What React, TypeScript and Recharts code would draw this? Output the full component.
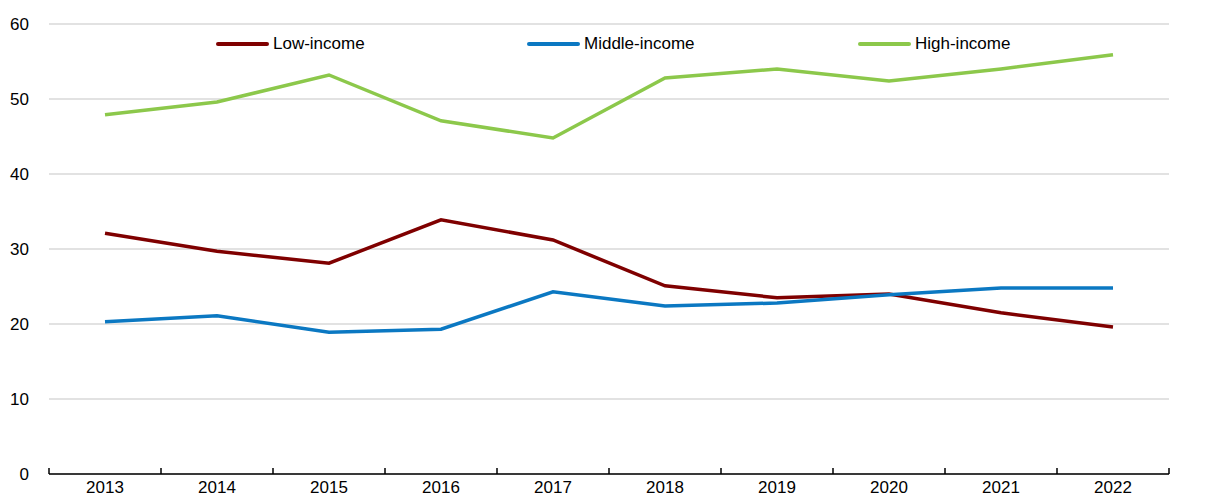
import React from "react";
import { LineChart, Line, XAxis, YAxis, CartesianGrid } from "recharts";

const years = ["2013", "2014", "2015", "2016", "2017", "2018", "2019", "2020", "2021", "2022"];
const lowIncome = [32.1, 29.7, 28.1, 33.9, 31.2, 25.1, 23.5, 24.0, 21.5, 19.6];
const middleIncome = [20.3, 21.1, 18.9, 19.3, 24.3, 22.4, 22.8, 23.9, 24.8, 24.8];
const highIncome = [47.9, 49.6, 53.2, 47.1, 44.8, 52.8, 54.0, 52.4, 54.0, 55.9];
const yTicks = [0, 10, 20, 30, 40, 50, 60];
const seriesNames = ["Low-income", "Middle-income", "High-income"];
const seriesColors = ["#7f0000", "#0b78c2", "#8cc84b"];

const data = years.map((y, i) => ({
  year: y,
  low: lowIncome[i],
  middle: middleIncome[i],
  high: highIncome[i],
}));

const FONT = "'Liberation Sans', Arial, sans-serif";
const HALF_BAND = 56;

const XTick = (props: any) => {
  const { x, y, payload, index } = props;
  const half = HALF_BAND;
  const axisY = y - 8;
  return (
    <g>
      <line x1={x - half} x2={x - half} y1={axisY} y2={axisY - 6} stroke="#000" strokeWidth={1.5} />
      {index === years.length - 1 && (
        <line x1={x + half} x2={x + half} y1={axisY} y2={axisY - 6} stroke="#000" strokeWidth={1.5} />
      )}
      <text x={x} y={axisY + 19} textAnchor="middle" fontSize={17} fontFamily={FONT} fill="#000">
        {payload.value}
      </text>
    </g>
  );
};

const legendPositions = [216, 527, 858];

export default function App() {
  return (
    <div style={{ position: "absolute", left: 0, top: 0, width: 1210, height: 498 }}>
      <LineChart
        width={1210}
        height={498}
        data={data}
        margin={{ top: 24, right: 0, bottom: 0, left: 0 }}
      >
        <CartesianGrid vertical={false} stroke="#d9d9d9" strokeWidth={1.5} yAxisId="left" />
        <XAxis
          dataKey="year"
          height={24}
          tick={<XTick />}
          tickLine={false}
          axisLine={{ stroke: "#000", strokeWidth: 1.5 }}
          interval={0}
          padding={{ left: HALF_BAND, right: HALF_BAND }}
        />
        <YAxis
          yAxisId="left"
          width={49}
          domain={[0, 60]}
          ticks={yTicks}
          axisLine={false}
          tickLine={false}
          tickMargin={14}
          tick={{ fontSize: 17, fontFamily: FONT, fill: "#000" }}
        />
        <YAxis
          yAxisId="right"
          orientation="right"
          width={41}
          domain={[0, 60]}
          ticks={yTicks}
          axisLine={false}
          tickLine={false}
          tickMargin={11}
          tick={{ fontSize: 17, fontFamily: FONT, fill: "#000", textAnchor: "start" }}
        />
        <Line yAxisId="left" dataKey="low" name={seriesNames[0]} stroke={seriesColors[0]} strokeWidth={3.5} dot={false} isAnimationActive={false} />
        <Line yAxisId="left" dataKey="middle" name={seriesNames[1]} stroke={seriesColors[1]} strokeWidth={3.5} dot={false} isAnimationActive={false} />
        <Line yAxisId="left" dataKey="high" name={seriesNames[2]} stroke={seriesColors[2]} strokeWidth={3.5} dot={false} isAnimationActive={false} />
      </LineChart>
      {seriesNames.map((n, i) => (
        <div
          key={n}
          style={{
            position: "absolute",
            left: legendPositions[i],
            top: 33,
            height: 22,
            display: "flex",
            alignItems: "center",
            fontFamily: FONT,
            fontSize: 17,
            color: "#000",
            whiteSpace: "nowrap",
          }}
        >
          <span style={{ display: "inline-block", width: 53, height: 4, borderRadius: 2, background: seriesColors[i], marginRight: 4 }} />
          {n}
        </div>
      ))}
    </div>
  );
}
